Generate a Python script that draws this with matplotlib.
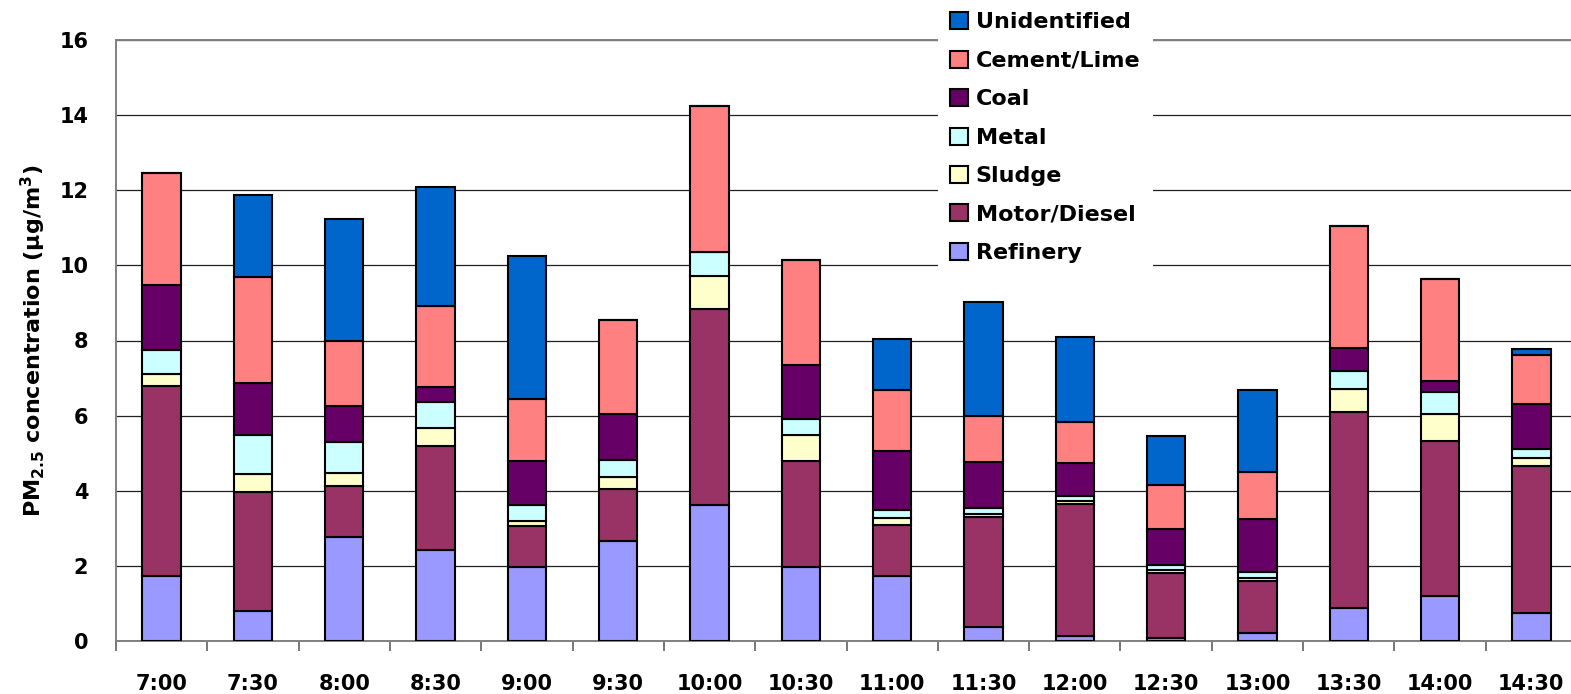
import numpy as np
import matplotlib
matplotlib.use("Agg")
import matplotlib.pyplot as plt

plt.rcParams['font.family'] = ['DejaVu Sans']
plt.rcParams['font.weight'] = 'bold'

# sampling times and source contributions (ug/m3)
times = ['7:00', '7:30', '8:00', '8:30', '9:00', '9:30', '10:00', '10:30',
         '11:00', '11:30', '12:00', '12:30', '13:00', '13:30', '14:00', '14:30']
refinery = [1.72, 0.81, 2.78, 2.42, 1.96, 2.65, 3.63, 1.97, 1.73, 0.38, 0.14, 0.09, 0.22, 0.88, 1.21, 0.74]
motor = [5.06, 3.15, 1.35, 2.78, 1.11, 1.40, 5.21, 2.83, 1.35, 2.91, 3.50, 1.72, 1.38, 5.21, 4.12, 3.91]
sludge = [0.33, 0.48, 0.33, 0.46, 0.13, 0.31, 0.89, 0.68, 0.19, 0.08, 0.09, 0.09, 0.09, 0.63, 0.72, 0.22]
metal = [0.65, 1.04, 0.85, 0.71, 0.43, 0.45, 0.62, 0.44, 0.23, 0.16, 0.13, 0.11, 0.14, 0.47, 0.59, 0.25]
coal = [1.73, 1.38, 0.95, 0.40, 1.15, 1.23, 0.00, 1.42, 1.57, 1.23, 0.87, 0.98, 1.41, 0.60, 0.27, 1.19]
cement = [2.97, 2.84, 1.74, 2.16, 1.66, 2.50, 3.90, 2.80, 1.61, 1.23, 1.11, 1.15, 1.27, 3.27, 2.74, 1.31]
unidentified = [0.00, 2.17, 3.23, 3.16, 3.82, 0.00, 0.00, 0.00, 1.35, 3.03, 2.25, 1.32, 2.18, 0.00, 0.00, 0.16]

sources = ['Refinery', 'Motor/Diesel', 'Sludge', 'Metal', 'Coal', 'Cement/Lime', 'Unidentified']
series = [refinery, motor, sludge, metal, coal, cement, unidentified]
colors = ['#9999FF', '#993366', '#FFFFCC', '#CCFFFF', '#660066', '#FF8080', '#0066CC']

fig = plt.figure(figsize=(15.71, 6.94), dpi=100)
ax = fig.add_axes([116 / 1571, 1 - 641 / 694, 1461 / 1571, 601 / 694])

x = np.arange(len(times))
bottom = np.zeros(len(times))
handles = []
for name, vals, col in zip(sources, series, colors):
    vals = np.array(vals)
    b = ax.bar(x, vals, 0.42, bottom=bottom, color=col, edgecolor='black',
               linewidth=1.5, label=name, zorder=3)
    handles.append(b)
    bottom += vals

ax.set_xlim(-0.5, len(times) - 0.5)
ax.set_ylim(0, 16)
ax.set_yticks(np.arange(0, 17, 2))
ax.yaxis.grid(True, color='#202020', linewidth=0.9, zorder=0)
ax.set_axisbelow(True)

ax.set_xticks(x)
ax.set_xticklabels(times)
ax.set_xticks(np.arange(-0.5, len(times), 1), minor=True)
ax.tick_params(axis='x', which='major', length=0, pad=24, labelsize=15)
ax.tick_params(axis='x', which='minor', length=7, width=1.2, color='#606060')
ax.tick_params(axis='y', length=0, pad=20, labelsize=15)
for lbl in ax.get_xticklabels() + ax.get_yticklabels():
    lbl.set_fontweight('bold')

for side in ['left', 'bottom', 'top']:
    ax.spines[side].set_color('#808080')
    ax.spines[side].set_linewidth(1.4)
ax.spines['right'].set_visible(False)

ax.set_ylabel(r'PM$_{\rm 2.5}$ concentration (μg/m$^{3}$)', fontsize=16,
              fontweight='bold', labelpad=8)

leg = ax.legend(handles[::-1], sources[::-1], loc='upper left',
                bbox_to_anchor=(938 / 1571, 1.0), bbox_transform=fig.transFigure,
                frameon=True, facecolor='white', edgecolor='none', framealpha=1,
                fancybox=False, borderaxespad=0, borderpad=0.55,
                prop={'size': 16, 'weight': 'bold'},
                handlelength=0.8, handleheight=0.8, handletextpad=0.35,
                labelspacing=0.82)
leg.set_zorder(5)

fig.savefig('out.png', dpi=100)
